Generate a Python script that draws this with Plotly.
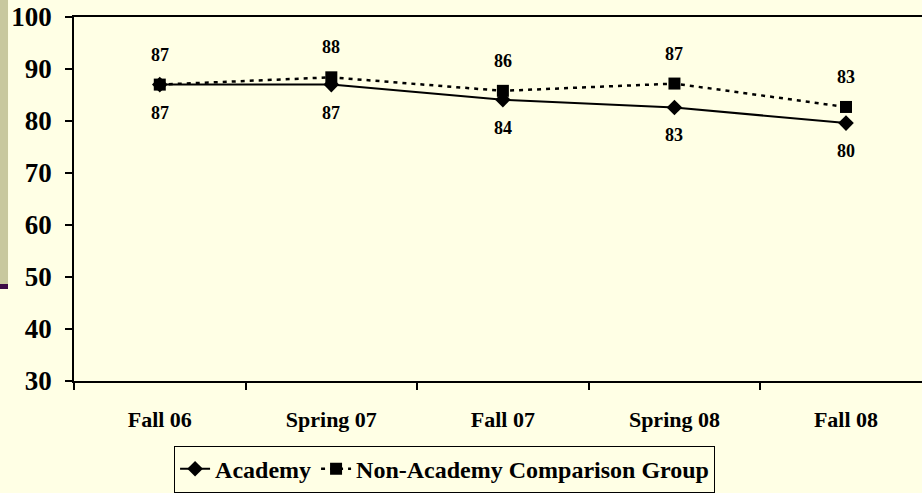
import plotly.graph_objects as go

categories = ["Fall 06", "Spring 07", "Fall 07", "Spring 08", "Fall 08"]
academy = [87.0, 87.0, 84.1, 82.6, 79.6]
non_academy = [87.0, 88.4, 85.8, 87.2, 82.7]
y_ticks = [30, 40, 50, 60, 70, 80, 90, 100]

BG = "#FFFFE5"
FONT = "Liberation Serif"

fig = go.Figure()
fig.add_trace(go.Scatter(
    x=categories, y=academy, name="<b>Academy</b>", mode="lines+markers",
    line=dict(color="black", width=2),
    marker=dict(symbol="diamond", size=12, color="black"),
))
fig.add_trace(go.Scatter(
    x=categories, y=non_academy, name="<b>Non-Academy Comparison Group</b>", mode="lines+markers",
    line=dict(color="black", width=2.5, dash="4px,5px"),
    marker=dict(symbol="square", size=12, color="black"),
))

for c, v in zip(categories, non_academy):
    fig.add_annotation(x=c, y=v, text=f"<b>{round(v)}</b>", showarrow=False,
                       yshift=30, font=dict(family=FONT, size=18, color="black"))
for c, v in zip(categories, academy):
    fig.add_annotation(x=c, y=v, text=f"<b>{round(v)}</b>", showarrow=False,
                       yshift=-28, font=dict(family=FONT, size=18, color="black"))

# left decoration strip
fig.add_shape(type="rect", xref="paper", yref="paper", x0=-0.0873, x1=-0.0778,
              y0=0.2665, y1=1.05, fillcolor="#C8C89E", line_width=0, layer="below")
fig.add_shape(type="rect", xref="paper", yref="paper", x0=-0.0873, x1=-0.0778,
              y0=0.2527, y1=0.2665, fillcolor="#3C0A46", line_width=0, layer="below")

fig.update_layout(
    width=922, height=493,
    margin=dict(l=74, r=0, t=17, b=112, autoexpand=False),
    paper_bgcolor=BG, plot_bgcolor=BG,
    font=dict(family=FONT, color="black"),
    showlegend=True,
    legend=dict(orientation="h", x=0.437, xanchor="center", y=-0.242, yanchor="middle",
                bordercolor="black", borderwidth=1, bgcolor=BG,
                font=dict(family=FONT, size=24, color="black"),
                itemwidth=30, tracegroupgap=0),
    xaxis=dict(type="category", range=[-0.5, 4.443], tickson="boundaries", automargin=False,
               showline=True, linecolor="black", linewidth=1.5, mirror=True,
               ticks="outside", ticklen=7, tickcolor="black", tickwidth=1.5,
               showgrid=False, zeroline=False, ticklabelstandoff=18,
               tickfont=dict(family=FONT, size=22, color="black", weight="bold")),
    yaxis=dict(range=[30, 100], tickvals=y_ticks, showline=True, linecolor="black", automargin=False,
               linewidth=1.5, ticks="outside", ticklen=7, tickcolor="black", tickwidth=1.5,
               showgrid=False, zeroline=False, ticklabelstandoff=8,
               tickfont=dict(family=FONT, size=27, color="black", weight="bold")),
)

fig.write_html("out.html", config={"displayModeBar": False},
               post_script="document.body.style.margin='0';document.body.style.overflow='hidden';")
